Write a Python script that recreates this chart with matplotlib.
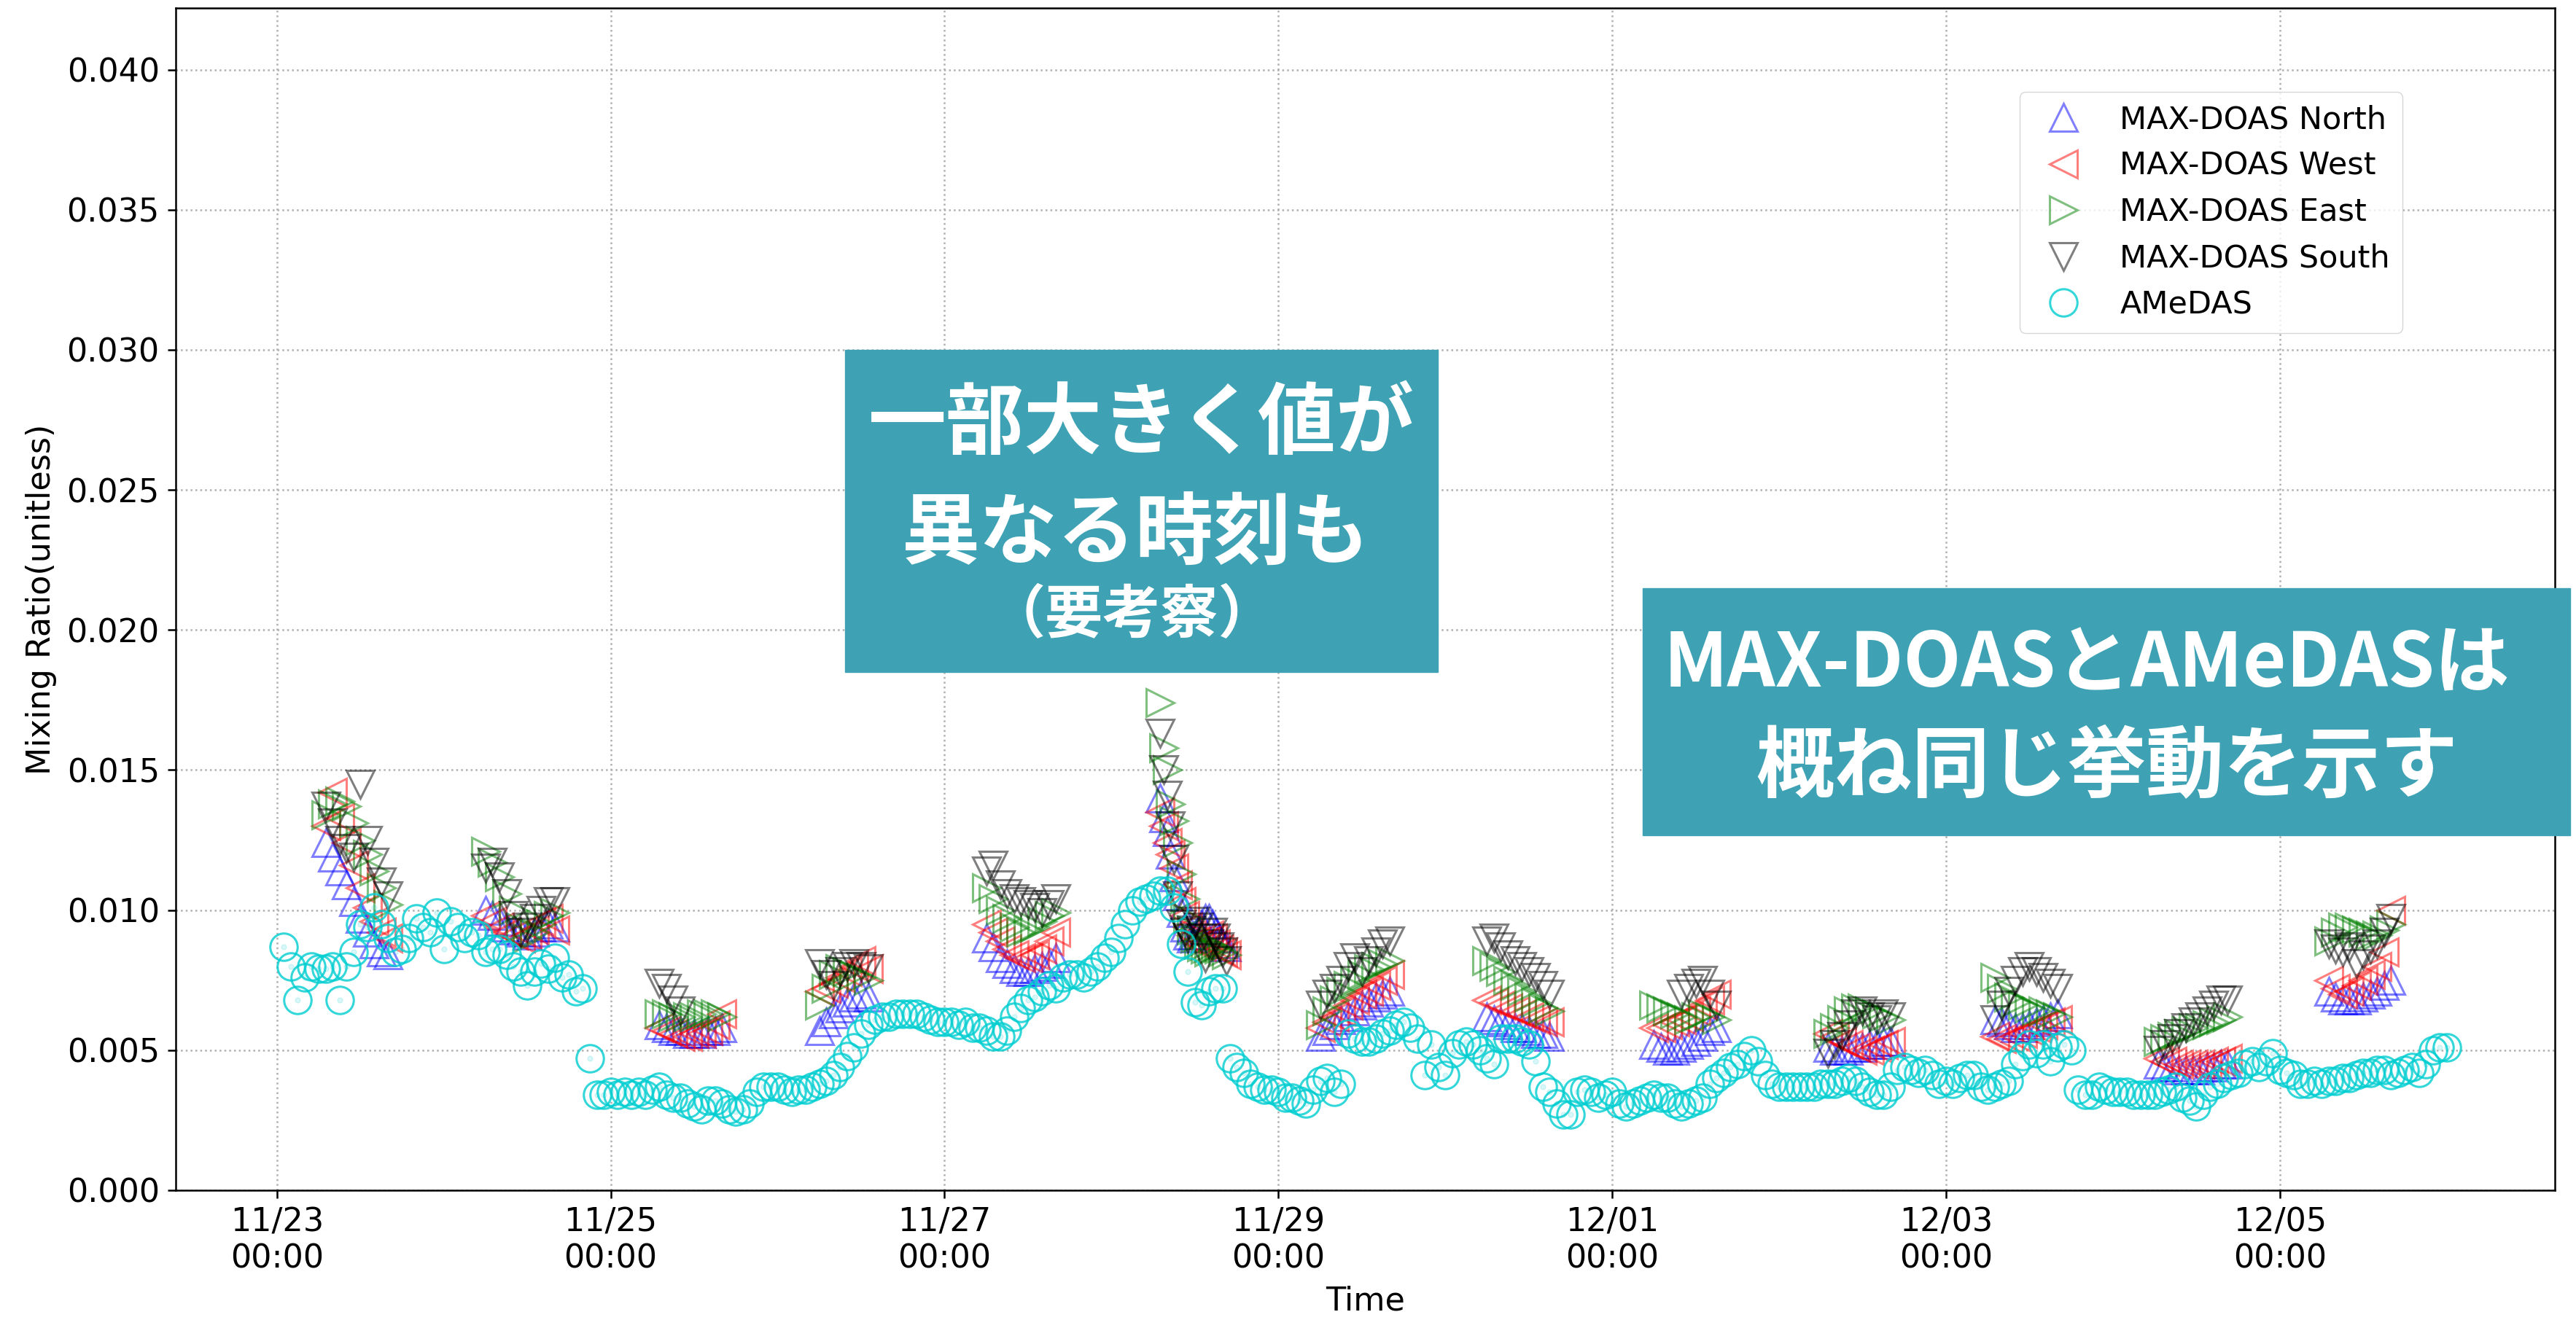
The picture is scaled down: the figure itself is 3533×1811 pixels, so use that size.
import numpy as np
import pandas as pd
import matplotlib
matplotlib.use("Agg")
import matplotlib.pyplot as plt
import matplotlib.dates as mdates
from matplotlib.patches import Rectangle

nan = np.nan

# AMeDAS hourly mixing ratio, 11/23 01:00 -> 12/06 00:00, one row per day
amedas_start = "2023-11-23 01:00"
amedas_values = [
    0.0087, 0.0080, 0.0068, 0.0076, 0.0080, 0.0079, 0.0079, 0.0080, 0.0068, 0.0080, 0.0085, 0.0095,
    0.0094, 0.0101, 0.0095, 0.0090, 0.0085, 0.0086, 0.0090, 0.0097, 0.0094, 0.0092, 0.0099, 0.0086,
    0.0096, 0.0094, 0.0090, 0.0092, 0.0091, 0.0085, 0.0086, 0.0086, 0.0084, 0.0080, 0.0078, 0.0073,
    0.0078, 0.0081, 0.0079, 0.0083, 0.0076, 0.0077, 0.0071, 0.0072, 0.0047, 0.0034, 0.0034, 0.0035,
    0.0034, 0.0035, 0.0034, 0.0035, 0.0034, 0.0036, 0.0037, 0.0034, 0.0033, 0.0033, 0.0031, 0.0030,
    0.0029, 0.0032, 0.0032, 0.0031, 0.0029, 0.0028, 0.0029, 0.0031, 0.0035, 0.0037, 0.0037, 0.0037,
    0.0036, 0.0035, 0.0036, 0.0036, 0.0037, 0.0038, 0.0039, 0.0041, 0.0044, 0.0048, 0.0051, 0.0056,
    0.0059, 0.0061, 0.0062, 0.0062, 0.0063, 0.0063, 0.0063, 0.0063, 0.0062, 0.0061, 0.0060, 0.0060,
    0.0060, 0.0059, 0.0060, 0.0058, 0.0058, 0.0057, 0.0055, 0.0055, 0.0057, 0.0062, 0.0065, 0.0068,
    0.0069, 0.0071, 0.0073, 0.0072, 0.0076, 0.0077, 0.0077, 0.0076, 0.0078, 0.0080, 0.0083, 0.0085,
    0.0090, 0.0095, 0.0100, 0.0103, 0.0104, 0.0105, 0.0107, 0.0107, 0.0101, 0.0088, 0.0078, 0.0067,
    0.0066, 0.0071, 0.0072, 0.0072, 0.0047, 0.0044, 0.0042, 0.0038, 0.0037, 0.0036, 0.0036, 0.0035,
    0.0033, 0.0033, 0.0032, 0.0031, 0.0036, 0.0039, 0.0040, 0.0035, 0.0038, 0.0056, 0.0054, 0.0053,
    0.0053, 0.0054, 0.0056, 0.0057, 0.0059, 0.0060, 0.0058, 0.0054, 0.0041, 0.0052, 0.0044, 0.0041,
    0.0049, 0.0052, 0.0053, 0.0052, 0.0050, 0.0047, 0.0045, 0.0054, 0.0054, 0.0054, 0.0053, 0.0052,
    0.0046, 0.0037, 0.0035, 0.0031, 0.0027, 0.0027, 0.0035, 0.0036, 0.0035, 0.0033, 0.0034, 0.0035,
    0.0031, 0.0030, 0.0031, 0.0032, 0.0033, 0.0034, 0.0033, 0.0033, 0.0031, 0.0030, 0.0031, 0.0032,
    0.0033, 0.0038, 0.0040, 0.0042, 0.0044, 0.0045, 0.0048, 0.0050, 0.0046, 0.0041, 0.0038, 0.0037,
    0.0037, 0.0037, 0.0037, 0.0037, 0.0037, 0.0038, 0.0038, 0.0038, 0.0039, 0.0040, 0.0039, 0.0037,
    0.0035, 0.0034, 0.0034, 0.0037, 0.0043, 0.0044, 0.0043, 0.0042, 0.0043, 0.0041, 0.0038, 0.0039,
    0.0038, 0.0040, 0.0041, 0.0041, 0.0037, 0.0036, 0.0037, 0.0038, 0.0039, 0.0045, 0.0048, 0.0052,
    0.0049, 0.0052, 0.0046, 0.0051, 0.0052, 0.0050, 0.0036, 0.0034, 0.0034, 0.0037, 0.0036, 0.0035,
    0.0035, 0.0035, 0.0034, 0.0034, 0.0034, 0.0034, 0.0035, 0.0036, 0.0037, 0.0033, 0.0032, 0.0030,
    0.0034, 0.0037, 0.0038, 0.0040, 0.0041, 0.0042, 0.0045, 0.0046, 0.0044, 0.0046, 0.0049, 0.0043,
    0.0042, 0.0041, 0.0038, 0.0038, 0.0039, 0.0038, 0.0039, 0.0039, 0.0040, 0.0040, 0.0041, 0.0042,
    0.0042, 0.0043, 0.0043, 0.0041, 0.0042, 0.0043, 0.0044, 0.0042, 0.0045, 0.0050, 0.0051, 0.0051,
]

# MAX-DOAS daytime scans: one group per day, first scan time and scan interval
doas_start = ["2023-11-23 07:00", "2023-11-24 06:00", "2023-11-25 07:00", "2023-11-26 06:00",
              "2023-11-27 06:00", "2023-11-28 07:00", "2023-11-29 06:00", "2023-11-30 06:00",
              "2023-12-01 06:00", "2023-12-02 07:00", "2023-12-03 07:00", "2023-12-04 06:30",
              "2023-12-05 07:00"]
doas_step_min = [60, 60, 60, 60, 60, 30, 60, 60, 60, 60, 60, 60, 60]

north = [
    [0.0124, 0.0119, 0.0114, 0.0109, 0.0103, 0.0097, 0.0092, 0.0088, 0.0085, 0.0084],
    [0.0100, 0.0098, 0.0096, 0.0094, 0.0093, 0.0092, 0.0091, 0.0092, 0.0094, 0.0095, 0.0094],
    [0.0059, 0.0058, 0.0057, 0.0057, 0.0056, 0.0056, 0.0056, 0.0057, 0.0057, 0.0058],
    [0.0057, 0.0060, 0.0063, 0.0065, 0.0067, 0.0069, 0.0070, 0.0069],
    [0.0090, 0.0087, 0.0083, 0.0081, 0.0079, 0.0078, 0.0078, 0.0079, 0.0080, 0.0081, 0.0083],
    [0.0140, 0.0133, 0.0128, 0.0120, 0.0112, 0.0105, 0.0099, 0.0094, 0.0091, 0.0090,
     0.0091, 0.0093, 0.0095, 0.0097, 0.0097, 0.0095, 0.0092, 0.0090, 0.0088, 0.0087],
    [0.0055, 0.0057, 0.0059, 0.0061, 0.0062, 0.0064, 0.0066, 0.0067, 0.0069, 0.0070, 0.0071],
    [0.0062, 0.0061, 0.0060, 0.0059, 0.0058, 0.0058, 0.0057, 0.0056, 0.0056, 0.0055],
    [0.0052, 0.0051, 0.0050, 0.0050, 0.0051, 0.0052, 0.0053, 0.0055, 0.0057, 0.0058],
    [0.0051, 0.0050, 0.0050, 0.0050, 0.0051, 0.0051, 0.0052, 0.0052, 0.0053, 0.0053],
    [0.0061, 0.0060, 0.0059, 0.0058, 0.0058, 0.0059, 0.0060, 0.0061, 0.0062, 0.0063],
    [0.0045, 0.0044, 0.0044, 0.0043, 0.0043, 0.0043, 0.0043, 0.0044, 0.0044, 0.0045, 0.0045],
    [0.0071, 0.0069, 0.0068, 0.0068, 0.0068, 0.0069, 0.0070, 0.0071, 0.0073, 0.0075],
]
west = [
    [0.0130, 0.0142, 0.0133, 0.0124, 0.0116, 0.0108, 0.0101, 0.0096, 0.0092, 0.0090],
    [0.0098, 0.0096, 0.0094, 0.0092, 0.0091, 0.0090, 0.0091, 0.0093, 0.0096, 0.0097, 0.0093],
    [0.0058, 0.0057, 0.0056, 0.0055, 0.0055, 0.0056, 0.0056, 0.0057, 0.0059, 0.0063],
    [0.0071, 0.0072, 0.0074, 0.0076, 0.0078, 0.0080, 0.0082, 0.0079],
    [0.0095, 0.0092, 0.0089, 0.0086, 0.0084, 0.0083, 0.0083, 0.0084, 0.0086, 0.0089, 0.0092],
    [0.0135, 0.0130, 0.0124, 0.0120, 0.0115, 0.0109, 0.0103, 0.0098, 0.0094, 0.0091,
     0.0089, 0.0088, 0.0087, 0.0089, 0.0091, 0.0090, 0.0088, 0.0086, 0.0085, 0.0084],
    [0.0058, 0.0060, 0.0062, 0.0064, 0.0066, 0.0068, 0.0070, 0.0071, 0.0073, 0.0075, 0.0077],
    [0.0068, 0.0067, 0.0066, 0.0065, 0.0064, 0.0063, 0.0062, 0.0061, 0.0060, 0.0060],
    [0.0058, 0.0058, 0.0059, 0.0060, 0.0061, 0.0062, 0.0064, 0.0066, 0.0068, 0.0070],
    [0.0056, 0.0055, 0.0053, 0.0052, 0.0051, 0.0050, 0.0050, 0.0051, 0.0052, 0.0053],
    [0.0055, 0.0054, 0.0054, 0.0055, 0.0056, 0.0057, 0.0058, 0.0059, 0.0060, 0.0061],
    [0.0047, 0.0046, 0.0046, 0.0045, 0.0045, 0.0045, 0.0045, 0.0045, 0.0046, 0.0046, 0.0047],
    [0.0075, 0.0072, 0.0070, 0.0071, 0.0073, 0.0075, 0.0077, 0.0080, 0.0085, 0.0100],
]
east = [
    [0.0134, 0.0138, 0.0139, 0.0137, 0.0131, 0.0125, 0.0120, 0.0114, 0.0108, 0.0102],
    [0.0121, 0.0117, 0.0112, 0.0106, 0.0100, 0.0094, 0.0090, 0.0092, 0.0095, 0.0098, 0.0099],
    [0.0063, 0.0063, 0.0062, 0.0062, 0.0062, 0.0062, 0.0063, 0.0063, 0.0063, 0.0062],
    [0.0066, 0.0072, 0.0077, 0.0079, 0.0078, 0.0077, 0.0076, 0.0075],
    [0.0108, 0.0104, 0.0100, 0.0097, 0.0094, 0.0092, 0.0093, 0.0094, 0.0096, 0.0098, 0.0099],
    [0.0174, 0.0158, 0.0150, 0.0138, 0.0132, 0.0124, 0.0113, 0.0104, 0.0097, 0.0093,
     0.0090, 0.0088, 0.0087, 0.0086, 0.0085, 0.0086, 0.0087, 0.0086, 0.0085, 0.0084],
    [0.0059, 0.0064, 0.0068, 0.0071, 0.0073, 0.0075, 0.0077, 0.0079, 0.0080, 0.0081, 0.0082],
    [0.0082, 0.0080, 0.0078, 0.0075, 0.0073, 0.0071, 0.0069, 0.0067, 0.0065, 0.0064],
    [0.0066, 0.0065, 0.0064, 0.0063, 0.0062, 0.0061, 0.0062, 0.0063, 0.0062, 0.0061],
    [0.0056, 0.0058, 0.0061, 0.0064, 0.0065, 0.0065, 0.0064, 0.0063, 0.0062, 0.0061],
    [0.0076, 0.0072, 0.0069, 0.0067, 0.0066, 0.0065, 0.0064, 0.0064, 0.0063, 0.0062],
    [0.0053, 0.0054, 0.0055, 0.0056, 0.0057, 0.0058, 0.0058, 0.0059, 0.0060, 0.0061, 0.0062],
    [0.0089, 0.0092, 0.0094, 0.0094, 0.0093, 0.0092, 0.0091, 0.0091, 0.0093, 0.0095],
]
south = [
    [0.0137, 0.0131, 0.0125, 0.0122, 0.0119, 0.0145, 0.0125, 0.0117, 0.0110, 0.0105],
    [0.0115, 0.0117, 0.0112, 0.0106, 0.0098, 0.0092, 0.0094, 0.0097, 0.0100, 0.0103, 0.0103],
    [0.0074, 0.0072, 0.0068, 0.0064],
    [0.0081, 0.0077, 0.0073, 0.0078, 0.0080, 0.0081, 0.0080, 0.0079],
    [0.0114, 0.0116, 0.0109, 0.0106, 0.0104, 0.0103, 0.0102, 0.0101, 0.0099, 0.0102, 0.0104],
    [0.0163, 0.0150, 0.0141, 0.0130, 0.0118, 0.0105, 0.0095, 0.0092, 0.0090, 0.0093,
     0.0096, 0.0094, 0.0090, 0.0083, 0.0088, 0.0092, 0.0090, 0.0087, 0.0085, 0.0082],
    [0.0066, 0.0070, 0.0072, 0.0075, 0.0080, 0.0083, 0.0078, 0.0082, 0.0085, 0.0088, 0.0089],
    [0.0089, 0.0090, 0.0087, 0.0084, 0.0082, 0.0080, 0.0078, 0.0076, 0.0073, 0.0070],
    [nan, nan, nan, nan, 0.0070, 0.0072, 0.0074, 0.0075, 0.0070, 0.0066],
    [0.0049, 0.0052, 0.0055, 0.0059, 0.0063, 0.0064, 0.0062, 0.0061, 0.0063, 0.0062],
    [0.0061, 0.0066, 0.0071, 0.0075, 0.0078, 0.0080, 0.0078, 0.0076, 0.0074, 0.0072],
    [0.0050, 0.0052, 0.0054, 0.0056, 0.0058, 0.0060, 0.0062, 0.0064, 0.0066, 0.0068, 0.0068],
    [0.0088, 0.0086, 0.0085, 0.0087, 0.0081, 0.0084, 0.0086, 0.0088, 0.0092, 0.0097],
]

note_left = ["一部大きく値が", "異なる時刻も", "（要考察）"]
note_right = ["MAX-DOASとAMeDASは", "概ね同じ挙動を示す"]


def expand(groups):
    times, values = [], []
    for start, step, vals in zip(doas_start, doas_step_min, groups):
        t0 = pd.Timestamp(start)
        for i, v in enumerate(vals):
            times.append(t0 + pd.Timedelta(minutes=step * i))
            values.append(v)
    return times, values


W, H = 3533, 1811
plt.rcParams['font.family'] = ['DejaVu Sans']
plt.rcParams['font.size'] = 32

fig = plt.figure(figsize=(W / 100, H / 100), dpi=100)
ax = fig.add_axes([241 / W, 1 - 1633 / H, (3504 - 241) / W, (1633 - 11) / H])

marker_kw = dict(linestyle='none', mfc='none', ms=27, mew=2.2, alpha=0.5)
series = [
    (north, '^', 'b', 'MAX-DOAS North'),
    (west, '<', 'r', 'MAX-DOAS West'),
    (east, '>', 'g', 'MAX-DOAS East'),
    (south, 'v', 'k', 'MAX-DOAS South'),
]
for groups, marker, color, label in series:
    t, v = expand(groups)
    ax.plot(t, v, marker=marker, mec=color, label=label, **marker_kw)

amedas_times = pd.date_range(amedas_start, periods=len(amedas_values), freq='h')
ax.plot(amedas_times, amedas_values, linestyle='none', marker='o', mfc='none',
        mec='darkturquoise', ms=27, mew=2.2, alpha=0.8, label='AMeDAS')
ax.plot(amedas_times, amedas_values, linestyle='none', marker='o', ms=5,
        color='darkturquoise', alpha=0.15)

ax.set_ylim(0, 0.0422)
ax.set_yticks(np.arange(0, 0.0401, 0.005))
ax.yaxis.set_major_formatter(matplotlib.ticker.FormatStrFormatter('%.3f'))
ax.set_xticks(pd.date_range("2023-11-23", "2023-12-05", freq="2D"))
ax.xaxis.set_major_formatter(mdates.DateFormatter('%m/%d\n%H:%M'))

ax.grid(True, linestyle=':', color='#b0b0b0', linewidth=1.8)
for sp in ax.spines.values():
    sp.set_linewidth(1.8)
ax.tick_params(length=8, width=1.8, pad=8, labelsize=32)

ax.set_xlabel('Time', fontsize=32, labelpad=11)
ax.set_ylabel('Mixing Ratio(unitless)', fontsize=32, labelpad=10)

ax.legend(loc='upper right', bbox_to_anchor=(0.936, 0.929), borderaxespad=0,
          fontsize=31, framealpha=0.8)

# annotation boxes laid over the chart
teal = '#3ea2b4'
cjk = ['Noto Sans CJK JP', 'DejaVu Sans']


def add_box(x0, y0, x1, y1):
    fig.add_artist(Rectangle((x0 / W, 1 - y1 / H), (x1 - x0) / W, (y1 - y0) / H,
                             transform=fig.transFigure, color=teal, zorder=10))


add_box(1159, 480, 1972, 922)
fig.text(1565 / W, 1 - 583 / H, note_left[0], ha='center', va='center', fontsize=77,
         fontweight='bold', color='white', family=cjk, zorder=11)
fig.text(1558 / W, 1 - 735 / H, note_left[1], ha='center', va='center', fontsize=77,
         fontweight='bold', color='white', family=cjk, zorder=11)
fig.text(1552 / W, 1 - 845 / H, note_left[2], ha='center', va='center', fontsize=57,
         fontweight='bold', color='white', family=cjk, zorder=11)

add_box(2253, 807, 3525, 1146)
fig.text(2862 / W, 1 - 912 / H, note_right[0], ha='center', va='center', fontsize=74,
         fontweight='bold', color='white', family=cjk, zorder=11)
fig.text(2890 / W, 1 - 1054 / H, note_right[1], ha='center', va='center', fontsize=77,
         fontweight='bold', color='white', family=cjk, zorder=11)

fig.savefig('out.png', dpi=100)
